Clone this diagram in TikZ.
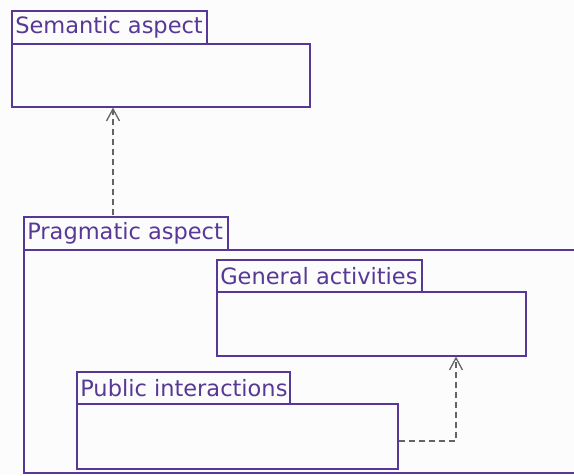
\documentclass[tikz,border=0pt]{standalone}
\usepackage{fontspec}
\setmainfont{DejaVu Sans}
\usetikzlibrary{arrows.meta}
\definecolor{umlline}{RGB}{88,56,150}
\definecolor{dep}{RGB}{100,100,100}
\definecolor{bg}{RGB}{252,252,252}
\tikzset{
  tabbox/.style={draw=umlline, line width=1.6pt, fill=bg, anchor=north west, minimum height=33pt,
    inner xsep=3.5pt, inner ysep=0pt, text=umlline, font=\fontsize{22.5}{26}\selectfont},
  bodybox/.style={draw=umlline, line width=1.6pt, fill=bg, anchor=north west, inner sep=0pt},
  depline/.style={draw=dep, line width=1.3pt, dash pattern=on 6pt off 4pt,
    -{Straight Barb[length=12pt,width=13pt,line width=1.3pt]}}
}
\begin{document}
\begin{tikzpicture}[x=1pt,y=-1pt]
\clip (0,0) rectangle (574,475);
\fill[bg] (0,0) rectangle (574,475);
% Semantic aspect
\node[tabbox] (semtab) at (11,10) {\makebox[188pt][l]{Semantic aspect}};
\node[bodybox, minimum width=298pt, minimum height=63pt] (sem) at (11,43) {};
% Pragmatic aspect
\node[bodybox, minimum width=600pt, minimum height=223pt] (prag) at (23,249) {};
\node[tabbox] (pragtab) at (23,216) {\makebox[197pt][l]{Pragmatic aspect}};
% General activities
\node[tabbox, minimum height=32pt] (gentab) at (216,259) {\makebox[198pt][l]{General activities}};
\node[bodybox, minimum width=309pt, minimum height=64pt] (gen) at (216,291) {};
% Public interactions
\node[tabbox, minimum height=32pt] (pubtab) at (76,371) {\makebox[206pt][l]{Public interactions}};
\node[bodybox, minimum width=321pt, minimum height=65pt] (pub) at (76,403) {};
% dependencies
\coordinate (d1s) at (113,215);
\draw[depline] (d1s) -- (sem.south -| d1s);
\coordinate (bend) at (456,441);
\draw[depline] (pub.east |- bend) -- (bend) -- (gen.south -| bend);
\end{tikzpicture}
\end{document}
